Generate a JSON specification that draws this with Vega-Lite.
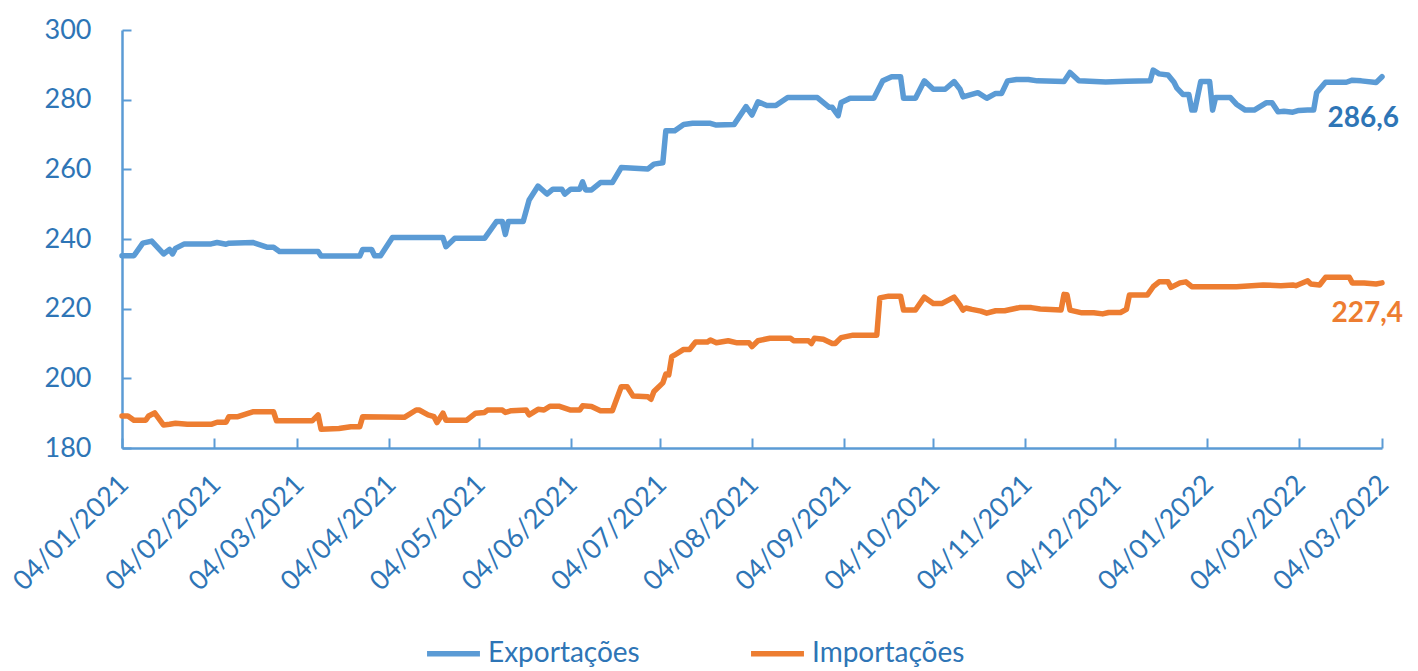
{
  "$schema": "https://vega.github.io/schema/vega-lite/v6.json",
  "width": 1260,
  "height": 418,
  "autosize": {"type": "none"},
  "padding": {"left": 122, "top": 30, "right": 36, "bottom": 223},
  "background": "white",
  "config": {
    "view": {"stroke": null},
    "font": "Lato",
    "locale": {"number": {"decimal": ",", "thousands": ".", "grouping": [3], "currency": ["", " €"]}}
  },
  "datasets": {
    "serie": [
      {"d":"2021-01-04","s":"Exportações","v":235.2},{"d":"2021-01-08","s":"Exportações","v":235.2},{"d":"2021-01-11","s":"Exportações","v":238.8},{"d":"2021-01-14","s":"Exportações","v":239.4},{"d":"2021-01-18","s":"Exportações","v":235.7},{"d":"2021-01-20","s":"Exportações","v":237.0},{"d":"2021-01-21","s":"Exportações","v":235.7},{"d":"2021-01-22","s":"Exportações","v":237.3},{"d":"2021-01-25","s":"Exportações","v":238.6},{"d":"2021-02-03","s":"Exportações","v":238.6},{"d":"2021-02-05","s":"Exportações","v":239.0},{"d":"2021-02-08","s":"Exportações","v":238.5},{"d":"2021-02-09","s":"Exportações","v":238.8},{"d":"2021-02-17","s":"Exportações","v":239.0},{"d":"2021-02-22","s":"Exportações","v":237.6},{"d":"2021-02-24","s":"Exportações","v":237.6},{"d":"2021-02-26","s":"Exportações","v":236.4},{"d":"2021-03-11","s":"Exportações","v":236.4},{"d":"2021-03-12","s":"Exportações","v":235.1},{"d":"2021-03-25","s":"Exportações","v":235.1},{"d":"2021-03-26","s":"Exportações","v":237.0},{"d":"2021-03-29","s":"Exportações","v":237.0},{"d":"2021-03-30","s":"Exportações","v":235.2},{"d":"2021-04-01","s":"Exportações","v":235.2},{"d":"2021-04-05","s":"Exportações","v":240.4},{"d":"2021-04-22","s":"Exportações","v":240.4},{"d":"2021-04-23","s":"Exportações","v":237.8},{"d":"2021-04-26","s":"Exportações","v":240.2},{"d":"2021-05-06","s":"Exportações","v":240.2},{"d":"2021-05-10","s":"Exportações","v":245.0},{"d":"2021-05-12","s":"Exportações","v":245.0},{"d":"2021-05-13","s":"Exportações","v":241.3},{"d":"2021-05-14","s":"Exportações","v":245.0},{"d":"2021-05-19","s":"Exportações","v":245.0},{"d":"2021-05-21","s":"Exportações","v":251.2},{"d":"2021-05-24","s":"Exportações","v":255.2},{"d":"2021-05-27","s":"Exportações","v":252.9},{"d":"2021-05-29","s":"Exportações","v":254.3},{"d":"2021-06-01","s":"Exportações","v":254.3},{"d":"2021-06-02","s":"Exportações","v":252.9},{"d":"2021-06-04","s":"Exportações","v":254.3},{"d":"2021-06-07","s":"Exportações","v":254.3},{"d":"2021-06-08","s":"Exportações","v":256.4},{"d":"2021-06-09","s":"Exportações","v":254.1},{"d":"2021-06-11","s":"Exportações","v":254.1},{"d":"2021-06-14","s":"Exportações","v":256.2},{"d":"2021-06-18","s":"Exportações","v":256.2},{"d":"2021-06-21","s":"Exportações","v":260.5},{"d":"2021-06-24","s":"Exportações","v":260.4},{"d":"2021-06-30","s":"Exportações","v":260.1},{"d":"2021-07-02","s":"Exportações","v":261.5},{"d":"2021-07-05","s":"Exportações","v":261.9},{"d":"2021-07-06","s":"Exportações","v":271.1},{"d":"2021-07-09","s":"Exportações","v":271.1},{"d":"2021-07-12","s":"Exportações","v":272.9},{"d":"2021-07-15","s":"Exportações","v":273.2},{"d":"2021-07-21","s":"Exportações","v":273.2},{"d":"2021-07-23","s":"Exportações","v":272.7},{"d":"2021-07-29","s":"Exportações","v":272.9},{"d":"2021-08-02","s":"Exportações","v":278.0},{"d":"2021-08-04","s":"Exportações","v":275.6},{"d":"2021-08-06","s":"Exportações","v":279.4},{"d":"2021-08-09","s":"Exportações","v":278.3},{"d":"2021-08-12","s":"Exportações","v":278.3},{"d":"2021-08-16","s":"Exportações","v":280.6},{"d":"2021-08-26","s":"Exportações","v":280.6},{"d":"2021-08-30","s":"Exportações","v":277.8},{"d":"2021-08-31","s":"Exportações","v":277.8},{"d":"2021-09-02","s":"Exportações","v":275.4},{"d":"2021-09-03","s":"Exportações","v":279.2},{"d":"2021-09-06","s":"Exportações","v":280.4},{"d":"2021-09-14","s":"Exportações","v":280.4},{"d":"2021-09-17","s":"Exportações","v":285.4},{"d":"2021-09-20","s":"Exportações","v":286.6},{"d":"2021-09-23","s":"Exportações","v":286.6},{"d":"2021-09-24","s":"Exportações","v":280.4},{"d":"2021-09-28","s":"Exportações","v":280.4},{"d":"2021-10-01","s":"Exportações","v":285.4},{"d":"2021-10-04","s":"Exportações","v":283.0},{"d":"2021-10-08","s":"Exportações","v":283.0},{"d":"2021-10-11","s":"Exportações","v":285.2},{"d":"2021-10-13","s":"Exportações","v":283.0},{"d":"2021-10-14","s":"Exportações","v":280.8},{"d":"2021-10-19","s":"Exportações","v":282.0},{"d":"2021-10-22","s":"Exportações","v":280.4},{"d":"2021-10-25","s":"Exportações","v":281.8},{"d":"2021-10-27","s":"Exportações","v":281.8},{"d":"2021-10-29","s":"Exportações","v":285.4},{"d":"2021-11-01","s":"Exportações","v":285.8},{"d":"2021-11-05","s":"Exportações","v":285.8},{"d":"2021-11-08","s":"Exportações","v":285.4},{"d":"2021-11-17","s":"Exportações","v":285.2},{"d":"2021-11-19","s":"Exportações","v":287.8},{"d":"2021-11-22","s":"Exportações","v":285.4},{"d":"2021-12-01","s":"Exportações","v":285.1},{"d":"2021-12-08","s":"Exportações","v":285.3},{"d":"2021-12-16","s":"Exportações","v":285.4},{"d":"2021-12-17","s":"Exportações","v":288.5},{"d":"2021-12-19","s":"Exportações","v":287.4},{"d":"2021-12-22","s":"Exportações","v":287.1},{"d":"2021-12-24","s":"Exportações","v":285.0},{"d":"2021-12-25","s":"Exportações","v":283.3},{"d":"2021-12-27","s":"Exportações","v":281.5},{"d":"2021-12-29","s":"Exportações","v":281.5},{"d":"2021-12-30","s":"Exportações","v":277.0},{"d":"2021-12-31","s":"Exportações","v":277.0},{"d":"2022-01-02","s":"Exportações","v":285.2},{"d":"2022-01-05","s":"Exportações","v":285.2},{"d":"2022-01-06","s":"Exportações","v":277.0},{"d":"2022-01-07","s":"Exportações","v":280.6},{"d":"2022-01-12","s":"Exportações","v":280.6},{"d":"2022-01-14","s":"Exportações","v":278.7},{"d":"2022-01-17","s":"Exportações","v":277.0},{"d":"2022-01-20","s":"Exportações","v":277.0},{"d":"2022-01-24","s":"Exportações","v":279.1},{"d":"2022-01-26","s":"Exportações","v":279.1},{"d":"2022-01-28","s":"Exportações","v":276.5},{"d":"2022-01-30","s":"Exportações","v":276.7},{"d":"2022-02-02","s":"Exportações","v":276.4},{"d":"2022-02-04","s":"Exportações","v":276.9},{"d":"2022-02-07","s":"Exportações","v":277.0},{"d":"2022-02-09","s":"Exportações","v":277.0},{"d":"2022-02-10","s":"Exportações","v":282.0},{"d":"2022-02-13","s":"Exportações","v":285.0},{"d":"2022-02-20","s":"Exportações","v":285.0},{"d":"2022-02-22","s":"Exportações","v":285.6},{"d":"2022-02-25","s":"Exportações","v":285.4},{"d":"2022-03-02","s":"Exportações","v":284.9},{"d":"2022-03-04","s":"Exportações","v":286.6},
      {"d":"2021-01-04","s":"Importações","v":189.2},{"d":"2021-01-06","s":"Importações","v":189.2},{"d":"2021-01-08","s":"Importações","v":188.0},{"d":"2021-01-12","s":"Importações","v":188.0},{"d":"2021-01-13","s":"Importações","v":189.2},{"d":"2021-01-15","s":"Importações","v":190.1},{"d":"2021-01-18","s":"Importações","v":186.6},{"d":"2021-01-20","s":"Importações","v":186.8},{"d":"2021-01-22","s":"Importações","v":187.1},{"d":"2021-01-26","s":"Importações","v":186.8},{"d":"2021-02-03","s":"Importações","v":186.8},{"d":"2021-02-05","s":"Importações","v":187.4},{"d":"2021-02-08","s":"Importações","v":187.4},{"d":"2021-02-09","s":"Importações","v":189.0},{"d":"2021-02-12","s":"Importações","v":189.0},{"d":"2021-02-17","s":"Importações","v":190.4},{"d":"2021-02-24","s":"Importações","v":190.4},{"d":"2021-02-25","s":"Importações","v":187.8},{"d":"2021-03-09","s":"Importações","v":187.8},{"d":"2021-03-11","s":"Importações","v":189.5},{"d":"2021-03-12","s":"Importações","v":185.4},{"d":"2021-03-18","s":"Importações","v":185.6},{"d":"2021-03-22","s":"Importações","v":186.1},{"d":"2021-03-25","s":"Importações","v":186.1},{"d":"2021-03-26","s":"Importações","v":189.0},{"d":"2021-04-09","s":"Importações","v":188.8},{"d":"2021-04-13","s":"Importações","v":190.9},{"d":"2021-04-14","s":"Importações","v":190.9},{"d":"2021-04-17","s":"Importações","v":189.5},{"d":"2021-04-19","s":"Importações","v":189.0},{"d":"2021-04-20","s":"Importações","v":187.3},{"d":"2021-04-22","s":"Importações","v":190.0},{"d":"2021-04-23","s":"Importações","v":188.0},{"d":"2021-04-30","s":"Importações","v":188.0},{"d":"2021-05-03","s":"Importações","v":190.0},{"d":"2021-05-06","s":"Importações","v":190.2},{"d":"2021-05-07","s":"Importações","v":190.9},{"d":"2021-05-12","s":"Importações","v":190.9},{"d":"2021-05-13","s":"Importações","v":190.2},{"d":"2021-05-15","s":"Importações","v":190.7},{"d":"2021-05-20","s":"Importações","v":190.9},{"d":"2021-05-21","s":"Importações","v":189.5},{"d":"2021-05-24","s":"Importações","v":191.1},{"d":"2021-05-26","s":"Importações","v":190.9},{"d":"2021-05-28","s":"Importações","v":192.0},{"d":"2021-05-31","s":"Importações","v":192.0},{"d":"2021-06-04","s":"Importações","v":190.9},{"d":"2021-06-07","s":"Importações","v":190.9},{"d":"2021-06-08","s":"Importações","v":192.1},{"d":"2021-06-11","s":"Importações","v":191.9},{"d":"2021-06-14","s":"Importações","v":190.7},{"d":"2021-06-18","s":"Importações","v":190.7},{"d":"2021-06-21","s":"Importações","v":197.6},{"d":"2021-06-23","s":"Importações","v":197.6},{"d":"2021-06-25","s":"Importações","v":194.9},{"d":"2021-06-30","s":"Importações","v":194.7},{"d":"2021-07-01","s":"Importações","v":194.0},{"d":"2021-07-02","s":"Importações","v":196.2},{"d":"2021-07-05","s":"Importações","v":198.7},{"d":"2021-07-06","s":"Importações","v":201.2},{"d":"2021-07-07","s":"Importações","v":201.0},{"d":"2021-07-08","s":"Importações","v":206.2},{"d":"2021-07-09","s":"Importações","v":206.7},{"d":"2021-07-12","s":"Importações","v":208.3},{"d":"2021-07-14","s":"Importações","v":208.3},{"d":"2021-07-16","s":"Importações","v":210.4},{"d":"2021-07-20","s":"Importações","v":210.4},{"d":"2021-07-21","s":"Importações","v":211.0},{"d":"2021-07-23","s":"Importações","v":210.2},{"d":"2021-07-27","s":"Importações","v":210.8},{"d":"2021-07-30","s":"Importações","v":210.2},{"d":"2021-08-03","s":"Importações","v":210.2},{"d":"2021-08-04","s":"Importações","v":209.1},{"d":"2021-08-06","s":"Importações","v":210.8},{"d":"2021-08-10","s":"Importações","v":211.5},{"d":"2021-08-17","s":"Importações","v":211.5},{"d":"2021-08-18","s":"Importações","v":210.8},{"d":"2021-08-23","s":"Importações","v":210.8},{"d":"2021-08-24","s":"Importações","v":210.0},{"d":"2021-08-25","s":"Importações","v":211.5},{"d":"2021-08-28","s":"Importações","v":211.2},{"d":"2021-08-31","s":"Importações","v":210.0},{"d":"2021-09-01","s":"Importações","v":210.0},{"d":"2021-09-03","s":"Importações","v":211.7},{"d":"2021-09-07","s":"Importações","v":212.4},{"d":"2021-09-15","s":"Importações","v":212.4},{"d":"2021-09-16","s":"Importações","v":223.1},{"d":"2021-09-19","s":"Importações","v":223.6},{"d":"2021-09-23","s":"Importações","v":223.6},{"d":"2021-09-24","s":"Importações","v":219.6},{"d":"2021-09-28","s":"Importações","v":219.6},{"d":"2021-10-01","s":"Importações","v":223.3},{"d":"2021-10-04","s":"Importações","v":221.5},{"d":"2021-10-07","s":"Importações","v":221.5},{"d":"2021-10-11","s":"Importações","v":223.3},{"d":"2021-10-13","s":"Importações","v":221.0},{"d":"2021-10-14","s":"Importações","v":219.6},{"d":"2021-10-15","s":"Importações","v":220.2},{"d":"2021-10-17","s":"Importações","v":219.8},{"d":"2021-10-20","s":"Importações","v":219.3},{"d":"2021-10-22","s":"Importações","v":218.7},{"d":"2021-10-25","s":"Importações","v":219.4},{"d":"2021-10-28","s":"Importações","v":219.4},{"d":"2021-11-02","s":"Importações","v":220.3},{"d":"2021-11-06","s":"Importações","v":220.3},{"d":"2021-11-09","s":"Importações","v":219.9},{"d":"2021-11-16","s":"Importações","v":219.6},{"d":"2021-11-17","s":"Importações","v":224.1},{"d":"2021-11-18","s":"Importações","v":224.0},{"d":"2021-11-19","s":"Importações","v":219.6},{"d":"2021-11-23","s":"Importações","v":218.8},{"d":"2021-11-27","s":"Importações","v":218.8},{"d":"2021-11-30","s":"Importações","v":218.5},{"d":"2021-12-02","s":"Importações","v":218.9},{"d":"2021-12-06","s":"Importações","v":218.9},{"d":"2021-12-08","s":"Importações","v":219.8},{"d":"2021-12-09","s":"Importações","v":223.9},{"d":"2021-12-15","s":"Importações","v":223.9},{"d":"2021-12-17","s":"Importações","v":226.3},{"d":"2021-12-19","s":"Importações","v":227.7},{"d":"2021-12-22","s":"Importações","v":227.7},{"d":"2021-12-23","s":"Importações","v":226.1},{"d":"2021-12-26","s":"Importações","v":227.4},{"d":"2021-12-28","s":"Importações","v":227.7},{"d":"2021-12-30","s":"Importações","v":226.3},{"d":"2022-01-06","s":"Importações","v":226.3},{"d":"2022-01-14","s":"Importações","v":226.3},{"d":"2022-01-23","s":"Importações","v":226.8},{"d":"2022-01-29","s":"Importações","v":226.6},{"d":"2022-02-02","s":"Importações","v":226.8},{"d":"2022-02-03","s":"Importações","v":226.6},{"d":"2022-02-07","s":"Importações","v":228.0},{"d":"2022-02-08","s":"Importações","v":227.1},{"d":"2022-02-11","s":"Importações","v":226.8},{"d":"2022-02-13","s":"Importações","v":229.0},{"d":"2022-02-21","s":"Importações","v":229.0},{"d":"2022-02-22","s":"Importações","v":227.4},{"d":"2022-02-26","s":"Importações","v":227.4},{"d":"2022-03-02","s":"Importações","v":227.1},{"d":"2022-03-04","s":"Importações","v":227.4}
    ]
  },
  "data": {"name": "serie"},
  "encoding": {
    "x": {
      "field": "d", "type": "temporal",
      "scale": {"type": "utc", "domain": [{"year": 2021, "month": 1, "date": 4, "utc": true}, {"year": 2022, "month": 3, "date": 4, "utc": true}]},
      "axis": {
        "title": null, "grid": false, "format": "%d/%m/%Y",
        "values": [
          {"year": 2021, "month": 1, "date": 4, "utc": true}, {"year": 2021, "month": 2, "date": 4, "utc": true},
          {"year": 2021, "month": 3, "date": 4, "utc": true}, {"year": 2021, "month": 4, "date": 4, "utc": true},
          {"year": 2021, "month": 5, "date": 4, "utc": true}, {"year": 2021, "month": 6, "date": 4, "utc": true},
          {"year": 2021, "month": 7, "date": 4, "utc": true}, {"year": 2021, "month": 8, "date": 4, "utc": true},
          {"year": 2021, "month": 9, "date": 4, "utc": true}, {"year": 2021, "month": 10, "date": 4, "utc": true},
          {"year": 2021, "month": 11, "date": 4, "utc": true}, {"year": 2021, "month": 12, "date": 4, "utc": true},
          {"year": 2022, "month": 1, "date": 4, "utc": true}, {"year": 2022, "month": 2, "date": 4, "utc": true},
          {"year": 2022, "month": 3, "date": 4, "utc": true}
        ],
        "labelAngle": -45, "labelAlign": "right", "labelBaseline": "middle",
        "labelFontSize": 27, "labelColor": "#2E75B6", "labelOverlap": false, "labelFlush": false,
        "labelPadding": 42, "labelOffset": 2,
        "domainColor": "#5B9BD5", "domainWidth": 2.5,
        "tickColor": "#5B9BD5", "tickWidth": 2, "tickSize": -10
      }
    },
    "y": {
      "field": "v", "type": "quantitative",
      "scale": {"domain": [180, 300], "nice": false, "zero": false},
      "axis": {
        "title": null, "grid": false, "values": [180, 200, 220, 240, 260, 280, 300],
        "labelFontSize": 27, "labelColor": "#2E75B6", "labelPadding": 40,
        "domainColor": "#5B9BD5", "domainWidth": 2.5,
        "tickColor": "#5B9BD5", "tickWidth": 2, "tickSize": -9
      }
    }
  },
  "layer": [
    {
      "mark": {"type": "line", "strokeWidth": 5.5, "strokeJoin": "round", "strokeCap": "round"},
      "encoding": {
        "color": {
          "field": "s", "type": "nominal",
          "scale": {"domain": ["Exportações", "Importações"], "range": ["#5B9BD5", "#ED7D31"]},
          "legend": {
            "title": null, "orient": "none", "direction": "horizontal",
            "legendX": 302, "legendY": 594,
            "symbolType": "stroke", "symbolSize": 2800, "symbolStrokeWidth": 5.5,
            "labelFontSize": 28, "labelColor": "#2E75B6", "labelOffset": 5,
            "columnPadding": 100, "symbolLimit": 0
          }
        }
      }
    },
    {
      "transform": [{"filter": {"and": [{"field": "s", "equal": "Exportações"}, {"field": "d", "equal": {"year": 2022, "month": 3, "date": 4, "utc": true}}]}}],
      "mark": {"type": "text", "fontWeight": "bold", "fontSize": 28, "color": "#2E75B6", "align": "right", "baseline": "middle", "dx": 17, "dy": 42},
      "encoding": {"text": {"field": "v", "type": "quantitative", "format": ".1f"}}
    },
    {
      "transform": [{"filter": {"and": [{"field": "s", "equal": "Importações"}, {"field": "d", "equal": {"year": 2022, "month": 3, "date": 4, "utc": true}}]}}],
      "mark": {"type": "text", "fontWeight": "bold", "fontSize": 28, "color": "#ED7D31", "align": "right", "baseline": "middle", "dx": 21, "dy": 31},
      "encoding": {"text": {"field": "v", "type": "quantitative", "format": ".1f"}}
    }
  ]
}
